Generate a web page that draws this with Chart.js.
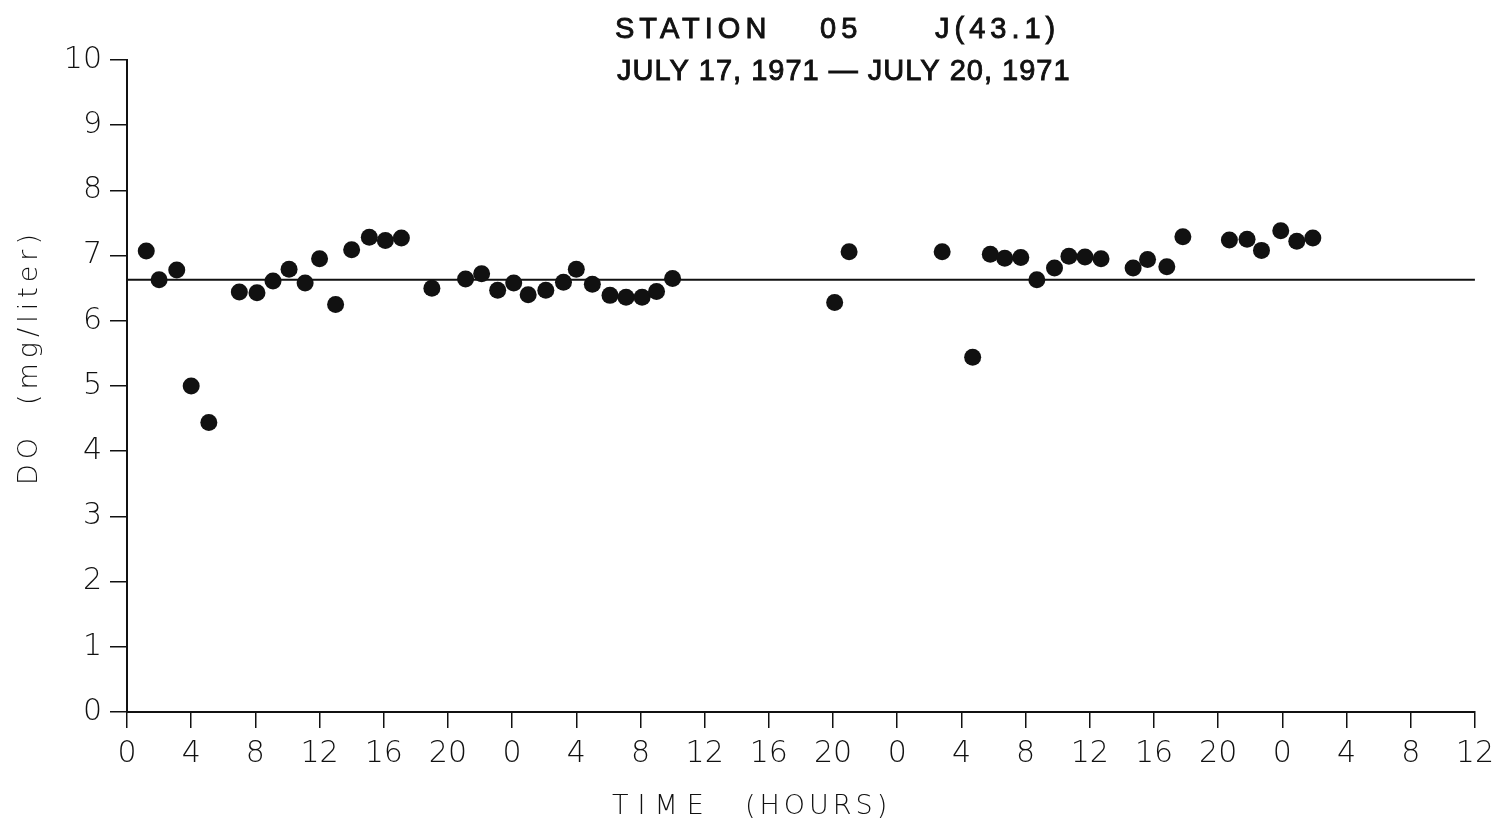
<!DOCTYPE html>
<html>
<head>
<meta charset="utf-8">
<script src="https://cdn.jsdelivr.net/npm/chart.js@4.4.1/dist/chart.umd.min.js"></script>
<style>
  html, body { margin: 0; padding: 0; background: #fff; }
  #wrap { width: 1502px; height: 825px; }
</style>
</head>
<body>
<div id="wrap"><canvas id="doChart" width="1502" height="825"></canvas></div>
<script>
// hours since start of record (0 = midnight July 17)
const hours = [
    1.2, 2.0, 3.1, 4.0, 5.1, 7.0, 8.1, 9.1, 10.1, 11.1, 12.0, 13.0, 14.0, 15.1, 16.1, 17.1,
    19.0, 21.1, 22.1, 23.1, 24.1, 25.0, 26.1, 27.2, 28.0, 29.0, 30.1, 31.1, 32.1, 33.0, 34.0,
    44.1, 45.0, 50.8, 52.7, 53.8, 54.7, 55.7, 56.7, 57.8, 58.7, 59.7, 60.7, 62.7, 63.6, 64.8,
    65.8, 68.7, 69.8, 70.7, 71.9, 72.9, 73.9
];
const doValues = [
    7.07, 6.63, 6.78, 5.00, 4.44, 6.44, 6.43, 6.61, 6.79, 6.58, 6.95, 6.25, 7.09, 7.28, 7.23, 7.27,
    6.50, 6.64, 6.72, 6.47, 6.58, 6.40, 6.47, 6.59, 6.79, 6.56, 6.39, 6.36, 6.36, 6.45, 6.65,
    6.28, 7.06, 7.06, 5.44, 7.02, 6.96, 6.97, 6.63, 6.81, 6.99, 6.98, 6.95, 6.81, 6.94, 6.83,
    7.29, 7.24, 7.25, 7.08, 7.38, 7.22, 7.27
];
const meanDO = 6.63;
const xTickLabels = ['0', '4', '8', '12', '16', '20', '0', '4', '8', '12', '16', '20',
    '0', '4', '8', '12', '16', '20', '0', '4', '8', '12'];
const stationParts = ['STATION', '05', 'J(43.1)'];
const dateLine = 'JULY 17, 1971 \u2014 JULY 20, 1971';
const xTitleParts = ['TIME', '(HOURS)'];
const yTitleParts = ['DO', '(mg/liter)'];

const ink = '#111';
const thinFont = "'DejaVu Sans', 'Liberation Sans', sans-serif";
const titleFont = "29px 'Liberation Sans', Arial, sans-serif";

const points = hours.map((h, i) => ({ x: h, y: doValues[i] }));

// fill plus a thin stroke gives the medium pen weight of the original lettering
function inkText(ctx, text, x, y) {
    ctx.fillText(text, x, y);
    ctx.strokeText(text, x, y);
}

const labelsPlugin = {
    id: 'labels',
    afterDraw(chart) {
        const ctx = chart.ctx;
        ctx.save();
        ctx.fillStyle = ink;
        ctx.strokeStyle = ink;
        ctx.lineWidth = 0.9;
        ctx.textBaseline = 'middle';
        ctx.textAlign = 'left';

        // title block
        ctx.font = titleFont;
        ctx.letterSpacing = '5px';
        inkText(ctx, stationParts[0], 615, 30);
        inkText(ctx, stationParts[1], 820, 30);
        inkText(ctx, stationParts[2], 935, 30);
        ctx.letterSpacing = '1px';
        inkText(ctx, dateLine, 617, 72);

        // axis titles
        ctx.font = '200 27px ' + thinFont;
        ctx.letterSpacing = '9px';
        ctx.fillText(xTitleParts[0], 612, 807);
        ctx.letterSpacing = '4px';
        ctx.fillText(xTitleParts[1], 745, 807);

        ctx.translate(30, 0);
        ctx.rotate(-Math.PI / 2);
        ctx.letterSpacing = '5px';
        ctx.fillText(yTitleParts[0], -485, 0);
        ctx.fillText(yTitleParts[1], -405, 0);
        ctx.restore();
    }
};

new Chart(document.getElementById('doChart'), {
    type: 'scatter',
    data: {
        datasets: [{
            label: 'DO',
            data: points,
            backgroundColor: ink,
            borderWidth: 0,
            pointRadius: 8.5,
            pointHoverRadius: 8.5
        }, {
            label: 'Mean',
            type: 'line',
            data: [{ x: 0, y: meanDO }, { x: 84, y: meanDO }],
            borderColor: ink,
            borderWidth: 2,
            pointRadius: 0,
            fill: false
        }]
    },
    options: {
        responsive: false,
        animation: false,
        layout: { padding: { left: 0, right: 24, top: 60, bottom: 0 } },
        plugins: {
            legend: { display: false },
            tooltip: { enabled: false }
        },
        scales: {
            x: {
                type: 'linear',
                min: 0,
                max: 84,
                afterFit: (scale) => { scale.height = 113; },
                border: { color: ink, width: 2 },
                grid: { drawOnChartArea: false, drawTicks: true, tickLength: 16, color: ink, lineWidth: 1.5 },
                ticks: {
                    stepSize: 4,
                    autoSkip: false,
                    maxRotation: 0,
                    padding: 8,
                    color: ink,
                    font: { family: thinFont, size: 30, weight: 200 },
                    callback: (value, index) => xTickLabels[index]
                }
            },
            y: {
                min: 0,
                max: 10,
                afterFit: (scale) => { scale.width = 127; },
                border: { color: ink, width: 2 },
                grid: { drawOnChartArea: false, drawTicks: true, tickLength: 17, color: ink, lineWidth: 1.5 },
                ticks: {
                    stepSize: 1,
                    padding: 8,
                    color: ink,
                    font: { family: thinFont, size: 30, weight: 200 }
                }
            }
        }
    },
    plugins: [labelsPlugin]
});
</script>
</body>
</html>
